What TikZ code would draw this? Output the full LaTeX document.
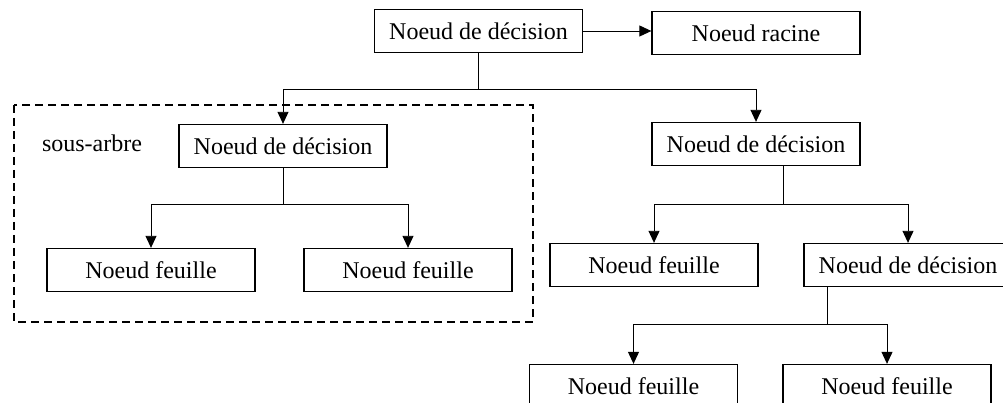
\documentclass[tikz,border=0pt]{standalone}
\usepackage{fontspec}
\setmainfont{Liberation Serif}
\usetikzlibrary{arrows.meta}
\tikzset{
  box/.style={draw, line width=1.3pt, minimum width=208pt, minimum height=43pt,
    inner sep=0pt, font=\fontsize{24}{28}\selectfont},
  arr/.style={-{Triangle[length=12pt,width=11pt]}, line width=0.9pt},
  link/.style={line width=0.9pt},
}
\begin{document}
\begin{tikzpicture}[x=1pt,y=-1pt]
  \useasboundingbox (0,0) rectangle (1003,403);
  % top level
  \node[box] (d1) at (478.5,31) {Noeud de décision};
  \node[box] (r) at (756,33) {Noeud racine};
  \draw[arr] (d1.east) -- (d1.east -| r.west);
  % sub-tree frame
  \draw[dash pattern=on 8pt off 5pt, line width=1.3pt] (14,105) rectangle (533,322);
  \node[font=\fontsize{24}{28}\selectfont] (s) at (92,143) {sous-arbre};
  % second level
  \node[box] (d2) at (283,146) {Noeud de décision};
  \node[box] (d3) at (756,144) {Noeud de décision};
  \draw[link] (d1.south) -- ++(0,36) coordinate (j1);
  \draw[arr] (j1) -| (d2.north);
  \draw[arr] (j1) -| (d3.north);
  % third level
  \node[box] (f1) at (151,270) {Noeud feuille};
  \node[box] (f2) at (408,270) {Noeud feuille};
  \node[box] (f3) at (654,265) {Noeud feuille};
  \node[box] (d4) at (908,265) {Noeud de décision};
  \draw[link] (d2.south) -- ++(0,36) coordinate (j2);
  \draw[arr] (j2) -| (f1.north);
  \draw[arr] (j2) -| (f2.north);
  \draw[link] ([xshift=27pt]d3.south) -- ++(0,38) coordinate (j3);
  \draw[arr] (j3) -| (f3.north);
  \draw[arr] (j3) -| (d4.north);
  % bottom level
  \node[box] (f4) at (633.5,386) {Noeud feuille};
  \node[box] (f5) at (887,386) {Noeud feuille};
  \draw[link] ([xshift=-81pt]d4.south) -- ++(0,37) coordinate (j4);
  \draw[arr] (j4) -| (f4.north);
  \draw[arr] (j4) -| (f5.north);
\end{tikzpicture}
\end{document}
